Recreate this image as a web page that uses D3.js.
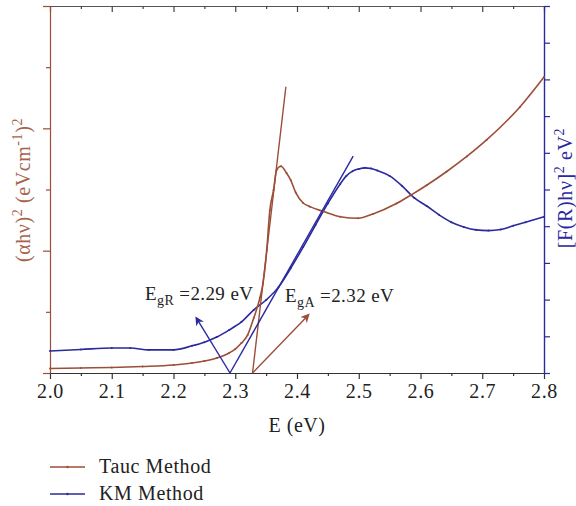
<!DOCTYPE html>
<html><head><meta charset="utf-8">
<script src="https://cdn.jsdelivr.net/npm/d3@7"></script>
<style>
html,body{margin:0;padding:0;background:#fff;}
text{font-family:"Liberation Serif","DejaVu Serif",serif;}
</style></head>
<body><svg id="c" width="576" height="506"></svg>
<script>
// ---- data ----
const xTicks = [2.0,2.1,2.2,2.3,2.4,2.5,2.6,2.7,2.8];
const xTickLabels = ["2.0","2.1","2.2","2.3","2.4","2.5","2.6","2.7","2.8"];
const tauE = [2.00,2.05,2.10,2.15,2.20,2.23,2.25,2.27,2.29,2.30,2.31,2.32,2.33,2.34,2.345,2.351,2.356,2.362,2.367,2.374,2.383,2.39,2.398,2.41,2.421,2.443,2.47,2.499,2.523,2.561,2.583,2.61,2.642,2.675,2.707,2.761,2.80];
const tauV = [0.074,0.082,0.09,0.106,0.131,0.163,0.196,0.245,0.327,0.392,0.49,0.62,0.90,1.23,1.47,2.01,2.66,2.99,3.32,3.38,3.27,3.15,2.95,2.78,2.72,2.64,2.555,2.53,2.60,2.77,2.90,3.07,3.29,3.54,3.81,4.35,4.84];
const kmE = [2.00,2.05,2.10,2.13,2.16,2.20,2.23,2.25,2.27,2.29,2.31,2.33,2.35,2.37,2.39,2.41,2.43,2.45,2.47,2.48,2.49,2.50,2.51,2.52,2.53,2.55,2.57,2.59,2.61,2.63,2.65,2.67,2.69,2.71,2.73,2.75,2.77,2.80];
const kmV = [0.60,0.64,0.68,0.68,0.63,0.63,0.74,0.84,0.98,1.17,1.39,1.72,1.99,2.34,2.86,3.43,4.03,4.62,5.15,5.37,5.50,5.56,5.59,5.57,5.52,5.37,5.10,4.77,4.55,4.31,4.11,3.98,3.90,3.88,3.91,4.01,4.11,4.26];
const tauFitE = [2.328,2.382];
const tauFitV = [0,4.68];
const kmFitE = [2.2915,2.491];
const kmFitV = [0,5.91];
const tauArrowE = [2.328,2.4186];
const tauArrowV = [0,0.95];
const kmArrowE = [2.2915,2.237];
const kmArrowV = [0,1.50];
const seriesNames = ["Tauc Method","KM Method"];

// ---- layout ----
const brown = "#9c4e38", blue = "#2a2a9e", labBrown = "#a8614b";
const svg = d3.select("#c");
const L = 50, R = 544, T = 6, B = 373;
const x = d3.scaleLinear().domain([2.0,2.8]).range([L,R]);
const yL = d3.scaleLinear().domain([0,6]).range([B,T]);
const yR = d3.scaleLinear().domain([0,10]).range([B,T]);

const defs = svg.append("defs");
function marker(id,col){
  defs.append("marker").attr("id",id).attr("viewBox","0 0 10 10").attr("refX",8).attr("refY",5)
    .attr("markerWidth",9).attr("markerHeight",9).attr("orient","auto-start-reverse")
    .attr("markerUnits","userSpaceOnUse")
    .append("path").attr("d","M0,0L10,5L0,10L3,5Z").attr("fill",col);
}
marker("ab",brown); marker("ak",blue);

// top axis
const minorX = d3.range(0,17).map(i=>2.0+i*0.05);
const gTop = svg.append("g").attr("transform",`translate(0,${T})`)
  .call(d3.axisBottom(x).tickValues(minorX).tickSize(3).tickFormat("").tickSizeOuter(0));
gTop.selectAll(".tick line").attr("stroke","#444").attr("stroke-width",1.2)
  .attr("y2",(d,i)=> i%2===0 ? 6 : 3);
gTop.select(".domain").attr("stroke","#555").attr("stroke-width",1.2);

// bottom axis
const gBot = svg.append("g").attr("transform",`translate(0,${B})`)
  .call(d3.axisBottom(x).tickValues(minorX).tickSize(6).tickSizeOuter(0)
    .tickFormat(d=>{const i=xTicks.findIndex(t=>Math.abs(t-d)<1e-6);return i>=0?xTickLabels[i]:"";}));
gBot.selectAll(".tick line").attr("stroke","#333").attr("stroke-width",1.2)
  .attr("y2",(d,i)=> i%2===0 ? 6 : 3);
gBot.select(".domain").attr("stroke","#333").attr("stroke-width",1.2);
gBot.selectAll(".tick text").attr("font-size",20).attr("fill","#222").attr("letter-spacing",0.6)
  .attr("font-family","Liberation Serif, serif").attr("y",11).attr("dy","0.71em");

// left axis
const gL = svg.append("g").attr("transform",`translate(${L},0)`)
  .call(d3.axisLeft(yL).tickValues(d3.range(0,7)).tickFormat("").tickSizeOuter(0));
gL.selectAll(".tick line").attr("stroke",brown).attr("stroke-width",1.2)
  .attr("x2",(d)=> d%2===0 ? -7 : -4);
gL.select(".domain").attr("stroke",brown).attr("stroke-width",1.2);

// right axis
const gR = svg.append("g").attr("transform",`translate(${R},0)`)
  .call(d3.axisRight(yR).tickValues(d3.range(0,11)).tickSize(6).tickFormat("").tickSizeOuter(0));
gR.selectAll(".tick line").attr("stroke",blue).attr("stroke-width",1.2);
gR.select(".domain").attr("stroke",blue).attr("stroke-width",1.4);

// lines
const tauData = tauE.map((e,i)=>({e,v:tauV[i]}));
const kmData = kmE.map((e,i)=>({e,v:kmV[i]}));
const lineL = d3.line().x(d=>x(d.e)).y(d=>yL(d.v)).curve(d3.curveMonotoneX);
const lineR = d3.line().x(d=>x(d.e)).y(d=>yR(d.v)).curve(d3.curveMonotoneX);
const straightL = d3.line().x(d=>x(d.e)).y(d=>yL(d.v));
const straightR = d3.line().x(d=>x(d.e)).y(d=>yR(d.v));

svg.append("path").datum(kmData).attr("d",lineR).attr("fill","none").attr("stroke",blue).attr("stroke-width",1.6);
svg.append("path").datum(tauData).attr("d",lineL).attr("fill","none").attr("stroke",brown).attr("stroke-width",1.6);
svg.append("g").selectAll("circle").data(kmData).join("circle")
  .attr("cx",d=>x(d.e)).attr("cy",d=>yR(d.v)).attr("r",1).attr("fill",blue);
svg.append("g").selectAll("circle").data(tauData).join("circle")
  .attr("cx",d=>x(d.e)).attr("cy",d=>yL(d.v)).attr("r",1).attr("fill",brown);

// fit lines
svg.append("path").datum(tauFitE.map((e,i)=>({e,v:tauFitV[i]}))).attr("d",straightL)
  .attr("stroke",brown).attr("stroke-width",1.4).attr("fill","none");
svg.append("path").datum(kmFitE.map((e,i)=>({e,v:kmFitV[i]}))).attr("d",straightR)
  .attr("stroke",blue).attr("stroke-width",1.4).attr("fill","none");

// arrows
svg.append("path").datum(tauArrowE.map((e,i)=>({e,v:tauArrowV[i]}))).attr("d",straightL)
  .attr("stroke",brown).attr("stroke-width",1.4).attr("fill","none").attr("marker-end","url(#ab)");
svg.append("path").datum(kmArrowE.map((e,i)=>({e,v:kmArrowV[i]}))).attr("d",straightR)
  .attr("stroke",blue).attr("stroke-width",1.4).attr("fill","none").attr("marker-end","url(#ak)");

// annotations
function eg(xp,yp,sub,rest){
  const t = svg.append("text").attr("x",xp).attr("y",yp).attr("font-size",19).attr("fill","#222").attr("letter-spacing",0.4);
  t.append("tspan").text("E");
  t.append("tspan").attr("font-size",14).attr("dy",5).text(sub);
  t.append("tspan").attr("dy",-5).text(" =2."+rest+" eV");
}
eg(145,300,"gR","29");
eg(285,302,"gA","32");

// axis titles
svg.append("text").attr("x",297).attr("y",432).attr("text-anchor","middle")
  .attr("font-size",20).attr("letter-spacing",0.5).attr("fill","#222").text("E (eV)");

const lt = svg.append("text").attr("transform","translate(30,190) rotate(-90)")
  .attr("text-anchor","middle").attr("font-size",20).attr("letter-spacing",0.6).attr("fill",labBrown);
lt.append("tspan").text("(\u03b1h\u03bd)");
lt.append("tspan").attr("font-size",14).attr("dy",-8).text("2");
lt.append("tspan").attr("dy",8).text(" (eVcm");
lt.append("tspan").attr("font-size",14).attr("dy",-8).text("-1");
lt.append("tspan").attr("dy",8).text(")");
lt.append("tspan").attr("font-size",14).attr("dy",-8).text("2");

const rt = svg.append("text").attr("transform","translate(572,188) rotate(-90)")
  .attr("text-anchor","middle").attr("font-size",20).attr("letter-spacing",0.6).attr("fill",blue);
rt.append("tspan").text("[F(R)h\u03bd]");
rt.append("tspan").attr("font-size",14).attr("dy",-8).text("2");
rt.append("tspan").attr("dy",8).text(" eV");
rt.append("tspan").attr("font-size",14).attr("dy",-8).text("2");

// legend
const cols = [brown, blue];
seriesNames.forEach((n,i)=>{
  const yy = 467 + i*27;
  svg.append("line").attr("x1",50).attr("x2",85).attr("y1",yy).attr("y2",yy)
    .attr("stroke",cols[i]).attr("stroke-width",1.4);
  svg.append("circle").attr("cx",67.5).attr("cy",yy).attr("r",1.2).attr("fill",cols[i]);
  svg.append("text").attr("x",99).attr("y",yy+6).attr("font-size",20).attr("letter-spacing",0.6)
    .attr("fill","#222").text(n);
});
</script></body></html>
